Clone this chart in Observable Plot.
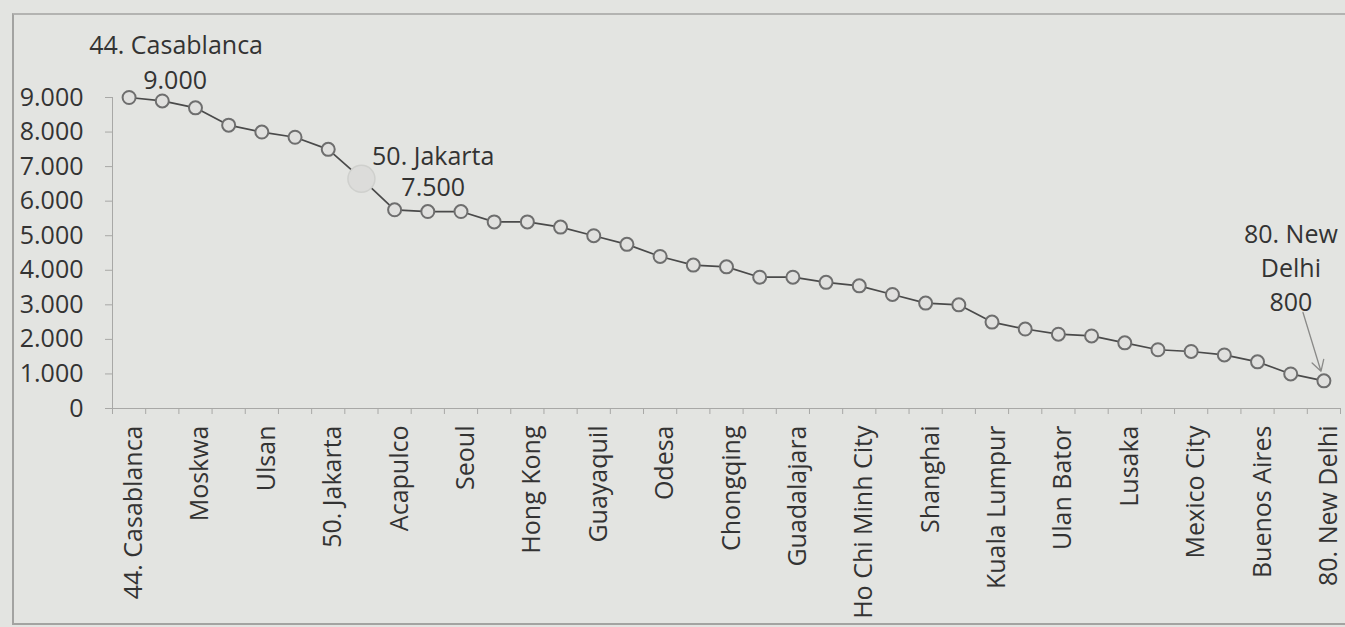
<!DOCTYPE html>
<html>
<head>
<meta charset="utf-8">
<script src="https://cdn.jsdelivr.net/npm/d3@7"></script>
<script src="https://cdn.jsdelivr.net/npm/@observablehq/plot@0.6"></script>
<style>
  html, body { margin: 0; padding: 0; width: 1345px; height: 627px; overflow: hidden;
    background: #e3e4e1; }
  #border { position: absolute; left: 12px; top: 13px; width: 1345px; height: 608px;
    border-left: 2px solid #a3a3a1; border-top: 2px solid #b3b3b1; border-bottom: 2px solid #a3a3a1; }
  #chart { position: absolute; left: 0; top: 0; }
</style>
</head>
<body>
<div id="border"></div>
<div id="chart"></div>
<script>
// Rank of each city (x categories)
const ranks = [44,45,46,47,48,49,50,51,52,53,54,55,56,57,58,59,60,61,62,
               63,64,65,66,67,68,69,70,71,72,73,74,75,76,77,78,79,80];
// Values
const values = [9000,8900,8700,8200,8000,7850,7500,6650,5750,5700,5700,5400,5400,5250,
                5000,4750,4400,4150,4100,3800,3800,3650,3550,3300,3050,3000,2500,2300,
                2150,2100,1900,1700,1650,1550,1350,1000,800];
// Labelled categories on the x axis
const tickRanks = [44,46,48,50,52,54,56,58,60,62,64,66,68,70,72,74,76,78,80];
const tickLabels = ["44. Casablanca","Moskwa","Ulsan","50. Jakarta","Acapulco","Seoul",
  "Hong Kong","Guayaquil","Odesa","Chongqing","Guadalajara","Ho Chi Minh City","Shanghai",
  "Kuala Lumpur","Ulan Bator","Lusaka","Mexico City","Buenos Aires","80. New Delhi"];
const yTicks = [0,1000,2000,3000,4000,5000,6000,7000,8000,9000];
// Highlighted (enlarged) marker
const highlightRanks = [51];
// Annotated points
const noteRanks = [44, 50, 80];
const noteNames = ["44. Casablanca", "50. Jakarta", "80. New\nDelhi"];

const fmt = d3.formatLocale({decimal: ",", thousands: ".", grouping: [3], currency: ["", ""]}).format(",");
const data = ranks.map((r, i) => ({rank: r, value: values[i]}));
const labelOf = new Map(tickRanks.map((r, i) => [r, tickLabels[i]]));
const notes = noteRanks.map((r, i) => ({...data.find(d => d.rank === r), name: noteNames[i]}));
const boundaries = ranks.map(r => r - 0.5).concat([ranks[ranks.length - 1] + 0.5]);

const font = "'Open Sans', sans-serif";
const txt = "#333333";
const axisGray = "#a8a8a6";

const chart = Plot.plot({
  width: 1345,
  height: 627,
  marginLeft: 112,
  marginRight: 5,
  marginTop: 97,
  marginBottom: 219,
  style: {fontFamily: font, fontSize: "25px", color: txt, background: "transparent", overflow: "visible"},
  x: {type: "linear", domain: [ranks[0] - 0.5, ranks[ranks.length - 1] + 0.5]},
  y: {domain: [0, 9000]},
  marks: [
    Plot.frame({anchor: "left", stroke: axisGray}),
    Plot.frame({anchor: "bottom", stroke: axisGray}),
    Plot.axisY(yTicks, {tickSize: 7, tickPadding: 22, tickFormat: fmt, stroke: axisGray,
      fill: txt, fontSize: 25, label: null}),
    Plot.axisX(boundaries, {tickSize: 6, tickFormat: () => "", stroke: axisGray, label: null}),
    Plot.axisX(tickRanks, {tickSize: 0, tickPadding: 17, tickRotate: -90, dx: 5,
      tickFormat: d => labelOf.get(d), fill: txt, fontSize: 25, label: null}),
    Plot.line(data, {x: "rank", y: "value", stroke: "#4a4a4a", strokeWidth: 1.7}),
    Plot.dot(data, {x: "rank", y: "value", r: 6.5, stroke: "#6e6e6e", strokeWidth: 2, fill: "#e0e0de"}),
    Plot.dot(data.filter(d => highlightRanks.includes(d.rank)),
      {x: "rank", y: "value", r: 13.5, stroke: "#cfd0cd", strokeWidth: 1.5, fill: "#dcdcda"}),
    // Casablanca annotation
    Plot.text(notes.filter(d => d.rank === 44), {x: "rank", y: "value", text: d => d.name,
      dx: 47, dy: -52, fill: txt, fontSize: 25}),
    Plot.text(notes.filter(d => d.rank === 44), {x: "rank", y: "value", text: d => fmt(d.value),
      dx: 46, dy: -17, fill: txt, fontSize: 25}),
    // Jakarta annotation
    Plot.text(notes.filter(d => d.rank === 50), {x: "rank", y: "value", text: d => d.name,
      dx: 105, dy: 8, fill: txt, fontSize: 25}),
    Plot.text(notes.filter(d => d.rank === 50), {x: "rank", y: "value", text: d => fmt(d.value),
      dx: 105, dy: 39, fill: txt, fontSize: 25}),
    // New Delhi annotation
    Plot.text(notes.filter(d => d.rank === 80), {x: "rank", y: "value", text: d => d.name + "\n" + fmt(d.value),
      dx: -33, dy: -115, lineHeight: 1.36, fill: txt, fontSize: 25}),
    Plot.arrow(notes.filter(d => d.rank === 80), {
      x1: d => d.rank - 0.63, y1: d => d.value + 1980, x2: "rank", y2: "value",
      insetEnd: 10, stroke: "#8a8a88", strokeWidth: 1.3, headLength: 14})
  ]
});
document.getElementById("chart").appendChild(chart);
</script>
</body>
</html>
